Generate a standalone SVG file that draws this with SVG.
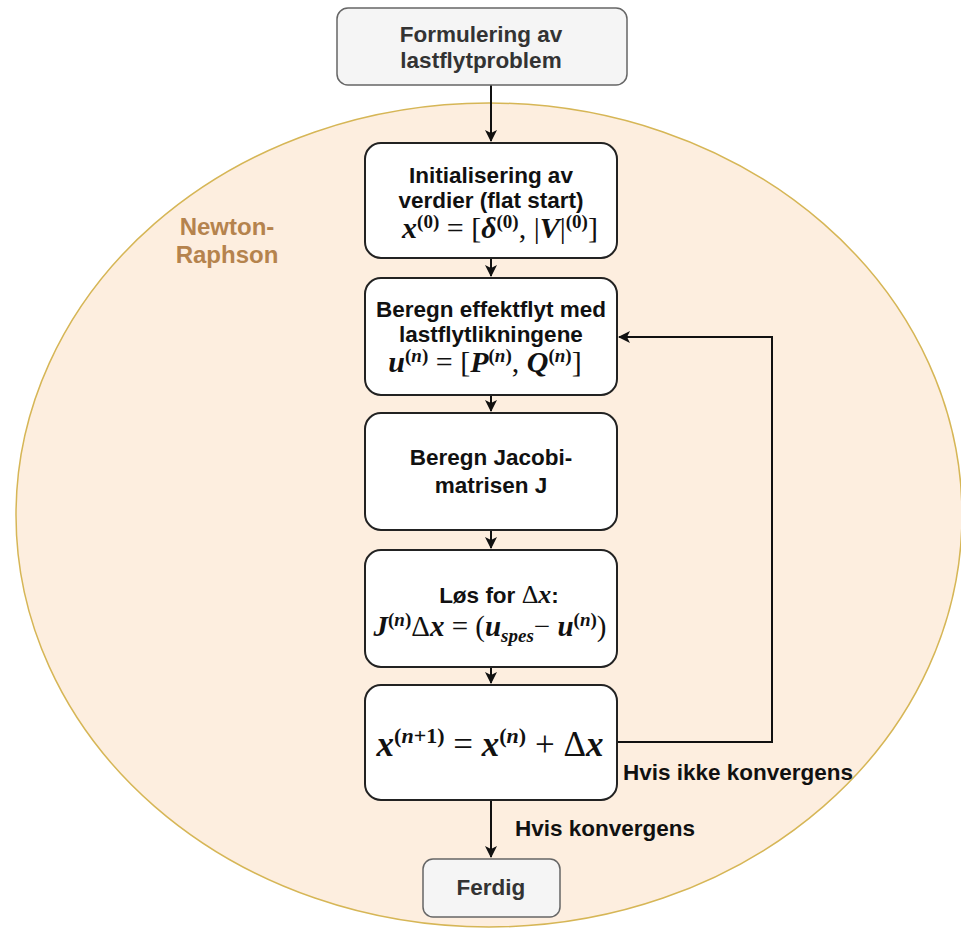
<svg xmlns="http://www.w3.org/2000/svg" width="961" height="933" viewBox="0 0 961 933">
  <defs>
    <marker id="arrow" viewBox="0 0 12 12" refX="11" refY="6" markerWidth="12" markerHeight="12" markerUnits="userSpaceOnUse" orient="auto">
      <path d="M0,0 L12,6 L0,12 L3,6 z" fill="#111"/>
    </marker>
  </defs>
  <style>
    .lbl { font-family: "Liberation Sans", Arial, sans-serif; font-weight: bold; font-size: 22.5px; fill: #111; text-anchor: middle; }
    .term { fill: #f5f5f5; stroke: #666; stroke-width: 1.5; }
    .term-lbl { fill: #333; }
    .step { fill: #fff; stroke: #222; stroke-width: 2; }
    .math { font-family: "Liberation Serif", "Times New Roman", serif; font-size: 30px; fill: #111; text-anchor: middle; }
    .bi { font-weight: bold; font-style: italic; }
    .sup { font-weight: bold; font-size: 19px; }
    .conn { fill: none; stroke: #111; stroke-width: 2; }
    .edge-lbl { font-family: "Liberation Sans", Arial, sans-serif; font-weight: bold; font-size: 22.5px; fill: #111; }
  </style>

  <!-- Newton-Raphson region -->
  <g id="newton-raphson">
    <ellipse cx="489" cy="515" rx="473" ry="412" fill="#fdeedf" stroke="#d6b656" stroke-width="1.5"/>
    <text class="lbl" x="227" y="235" style="fill:#b5834d;font-size:24px">Newton-</text>
    <text class="lbl" x="227" y="263" style="fill:#b5834d;font-size:24px">Raphson</text>
  </g>

  <!-- Connectors -->
  <g id="connectors">
    <path class="conn" d="M491,85 V141" marker-end="url(#arrow)"/>
    <path class="conn" d="M491,258 V276" marker-end="url(#arrow)"/>
    <path class="conn" d="M491,395 V411" marker-end="url(#arrow)"/>
    <path class="conn" d="M491,530 V548" marker-end="url(#arrow)"/>
    <path class="conn" d="M491,667 V683" marker-end="url(#arrow)"/>
    <path class="conn" d="M491,800 V857" marker-end="url(#arrow)"/>
    <path class="conn" d="M617,742 H772 V337 H619" marker-end="url(#arrow)"/>
    <text class="edge-lbl" x="623" y="780">Hvis ikke konvergens</text>
    <text class="edge-lbl" x="515" y="836">Hvis konvergens</text>
  </g>

  <!-- Start -->
  <g id="formulering">
    <rect class="term" x="337" y="8" width="290" height="77" rx="11"/>
    <text class="lbl term-lbl" x="481" y="42">Formulering av</text>
    <text class="lbl term-lbl" x="481" y="68">lastflytproblem</text>
  </g>

  <g id="initialisering">
    <rect class="step" x="365" y="143" width="252" height="115" rx="16"/>
    <text class="lbl" x="491" y="183">Initialisering av</text>
    <text class="lbl" x="491" y="208">verdier (flat start)</text>
    <text class="math" x="500" y="238"><tspan class="bi">x</tspan><tspan class="sup" dy="-10">(0)</tspan><tspan dy="10"> = [</tspan><tspan class="bi">δ</tspan><tspan class="sup" dy="-10">(0)</tspan><tspan dy="10">, |</tspan><tspan class="bi">V</tspan><tspan>|</tspan><tspan class="sup" dy="-10">(0)</tspan><tspan dy="10">]</tspan></text>
  </g>

  <g id="effektflyt">
    <rect class="step" x="365" y="278" width="252" height="117" rx="16"/>
    <text class="lbl" x="491" y="317">Beregn effektflyt med</text>
    <text class="lbl" x="491" y="342">lastflytlikningene</text>
    <text class="math" x="485" y="372"><tspan class="bi">u</tspan><tspan class="sup" dy="-10">(<tspan class="bi">n</tspan>)</tspan><tspan dy="10"> = [</tspan><tspan class="bi">P</tspan><tspan class="sup" dy="-10">(<tspan class="bi">n</tspan>)</tspan><tspan dy="10">, </tspan><tspan class="bi">Q</tspan><tspan class="sup" dy="-10">(<tspan class="bi">n</tspan>)</tspan><tspan dy="10">]</tspan></text>
  </g>

  <g id="jacobi">
    <rect class="step" x="365" y="413" width="252" height="117" rx="16"/>
    <text class="lbl" x="491" y="465">Beregn Jacobi-</text>
    <text class="lbl" x="491" y="493">matrisen J</text>
  </g>

  <g id="los">
    <rect class="step" x="365" y="550" width="252" height="117" rx="16"/>
    <text class="lbl" x="499" y="603">Løs for <tspan style="font-family:'Liberation Serif',serif;font-weight:normal;font-size:26px">Δ</tspan><tspan style="font-family:'Liberation Serif',serif;font-style:italic;font-size:26px">x</tspan>:</text>
    <text class="math" x="490" y="636" style="font-size:29px"><tspan class="bi">J</tspan><tspan class="sup" dy="-10">(<tspan class="bi">n</tspan>)</tspan><tspan dy="10">Δ</tspan><tspan class="bi">x</tspan><tspan> = (</tspan><tspan class="bi">u</tspan><tspan class="sup bi" dy="6">spes</tspan><tspan dy="-6">− </tspan><tspan class="bi">u</tspan><tspan class="sup" dy="-10">(<tspan class="bi">n</tspan>)</tspan><tspan dy="10">)</tspan></text>
  </g>

  <g id="oppdatering">
    <rect class="step" x="365" y="685" width="252" height="115" rx="16"/>
    <text class="math" x="490" y="756" style="font-size:35px"><tspan class="bi">x</tspan><tspan class="sup" dy="-13" style="font-size:22px">(<tspan class="bi">n</tspan>+1)</tspan><tspan dy="13"> = </tspan><tspan class="bi">x</tspan><tspan class="sup" dy="-13" style="font-size:22px">(<tspan class="bi">n</tspan>)</tspan><tspan dy="13"> + Δ</tspan><tspan class="bi">x</tspan></text>
  </g>

  <!-- End -->
  <g id="ferdig">
    <rect class="term" x="423" y="859" width="137" height="58" rx="10"/>
    <text class="lbl term-lbl" x="491" y="895">Ferdig</text>
  </g>
</svg>
